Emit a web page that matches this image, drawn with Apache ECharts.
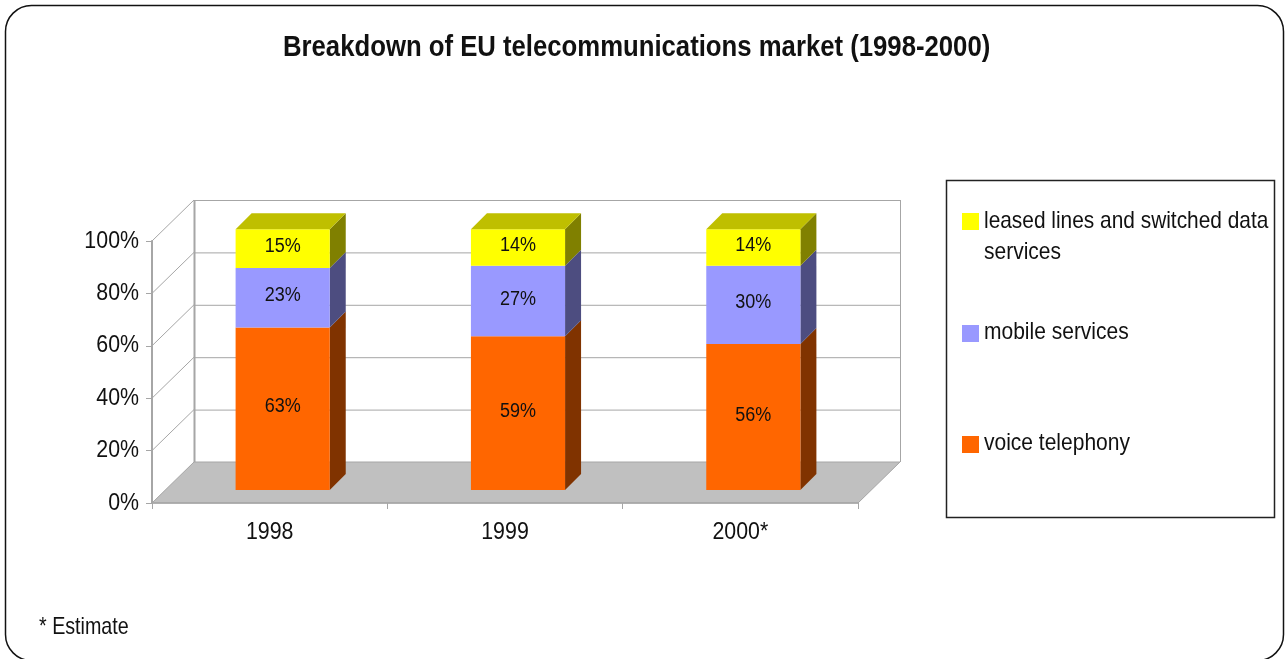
<!DOCTYPE html>
<html>
<head>
<meta charset="utf-8">
<title>Breakdown of EU telecommunications market</title>
<script src="https://cdn.jsdelivr.net/npm/echarts@6/dist/echarts.min.js"></script>
<style>
    html, body { margin: 0; padding: 0; background: #fff; }
    #chart { width: 1286px; height: 659px; }
</style>
</head>
<body>
<div id="chart"></div>
<script>
    var years = ['1998', '1999', '2000*'];
    var voice = [63, 59, 56];
    var mobile = [23, 27, 30];
    var leased = [15, 14, 14];
    var yTicks = [0, 20, 40, 60, 80, 100];

    var FONT = '"Liberation Sans", sans-serif';
    var DEPTH_X = 42, DEPTH_Y = 41;     // floor depth of the fake 3d box
    var BAR_X = 13, BAR_Y = 13;         // front of the bars, from the axis plane
    var BAR_D = 16;                     // depth of a bar
    var BAR_SCALE = 0.995;

    var chart = echarts.init(document.getElementById('chart'));

    // the original font is a narrow one, none is installed so squeeze the regular one
    function narrowText(text, x, y, size, squeeze, align, extra) {
        return {
            type: 'text',
            x: x,
            y: y,
            scaleX: squeeze,
            style: {
                text: text,
                align: align || 'left',
                verticalAlign: 'middle',
                font: (extra || '') + size + 'px ' + FONT,
                fill: '#111'
            }
        };
    }

    function renderWalls(params, api) {
        var o = api.coord([0, 0]);
        var size = api.size([1, 0]);
        var x0 = o[0] - size[0] / 2;
        var x1 = x0 + size[0] * years.length;
        var top = api.coord([0, 100])[1];
        var line = { stroke: '#a6a6a6', lineWidth: 1, fill: null };
        var children = [
            { type: 'polygon', shape: { points: [[x0, o[1]], [x1, o[1]], [x1 + DEPTH_X, o[1] - DEPTH_Y], [x0 + DEPTH_X, o[1] - DEPTH_Y]] },
              style: { fill: '#c0c0c0', stroke: '#a6a6a6', lineWidth: 1 } },
            { type: 'line', shape: { x1: x0 + DEPTH_X + 0.5, y1: o[1] - DEPTH_Y, x2: x0 + DEPTH_X + 0.5, y2: top - DEPTH_Y }, style: { stroke: '#a6a6a6', lineWidth: 2 } },
            { type: 'line', shape: { x1: x1 + DEPTH_X + 0.5, y1: o[1] - DEPTH_Y, x2: x1 + DEPTH_X + 0.5, y2: top - DEPTH_Y }, style: line }
        ];
        yTicks.forEach(function (t) {
            var y = api.coord([0, t])[1];
            if (t > 0) {
                children.push({ type: 'line', shape: { x1: x0, y1: y, x2: x0 + DEPTH_X, y2: y - DEPTH_Y }, style: line });
                children.push({ type: 'line', shape: { x1: x0 + DEPTH_X, y1: y - DEPTH_Y + 0.5, x2: x1 + DEPTH_X, y2: y - DEPTH_Y + 0.5 }, style: line });
            }
            children.push(narrowText(t + '%', x0 - 13, y, 24, 0.89, 'right'));
        });
        years.forEach(function (year, i) {
            children.push(narrowText(year, api.coord([i, 0])[0], o[1] + 29, 24, 0.89, 'center'));
        });
        return { type: 'group', children: children };
    }

    // one stack piece: front face, side face, top face if it is the last one
    function pieceRenderer(values, below, colors, isTop) {
        return function (params, api) {
            var i = params.dataIndex;
            var total = voice[i] + mobile[i] + leased[i];
            var from = below[i] / total * 100 * BAR_SCALE;
            var to = (below[i] + values[i]) / total * 100 * BAR_SCALE;
            var a = api.coord([i, from]);
            var b = api.coord([i, to]);
            var w = api.size([1, 0])[0] * 0.4;
            var l = a[0] + BAR_X - w / 2, r = l + w;
            var y0 = a[1] - BAR_Y, y1 = b[1] - BAR_Y;
            var children = [
                { type: 'polygon', shape: { points: [[r, y0], [r + BAR_D, y0 - BAR_D], [r + BAR_D, y1 - BAR_D], [r, y1]] }, style: { fill: colors.side } },
                { type: 'rect', shape: { x: l, y: y1, width: w, height: y0 - y1 }, style: { fill: colors.front } },
                narrowText(values[i] + '%', l + w / 2, (y0 + y1) / 2 - 2, 20, 0.9, 'center')
            ];
            if (isTop) {
                children.push({ type: 'polygon', shape: { points: [[l, y1], [r, y1], [r + BAR_D, y1 - BAR_D], [l + BAR_D, y1 - BAR_D]] }, style: { fill: colors.top } });
            }
            return { type: 'group', children: children };
        };
    }

    var voiceBelow = [0, 0, 0];
    var mobileBelow = voice;
    var leasedBelow = voice.map(function (v, i) { return v + mobile[i]; });

    function pieceSeries(name, values, below, colors, isTop) {
        return {
            name: name,
            type: 'custom',
            coordinateSystem: 'cartesian2d',
            clip: false,
            z: 3,
            itemStyle: { color: colors.front },
            data: values.map(function (v, i) { return [i, v]; }),
            renderItem: pieceRenderer(values, below, colors, isTop)
        };
    }

    function legendMark(y, color) {
        return { type: 'rect', shape: { x: 962, y: y, width: 17, height: 17 }, style: { fill: color } };
    }

    chart.setOption({
        animation: false,
        grid: { left: 152, right: 428, top: 241, bottom: 156 },
        xAxis: {
            type: 'category',
            data: years,
            z: 5,
            axisLine: { lineStyle: { color: '#a6a6a6', width: 1.5 } },
            axisTick: { show: true, alignWithLabel: false, length: 6, lineStyle: { color: '#a6a6a6' } },
            axisLabel: { show: false },
            splitLine: { show: false }
        },
        yAxis: {
            type: 'value',
            min: 0,
            max: 100,
            interval: 20,
            z: 5,
            axisLine: { show: true, lineStyle: { color: '#a6a6a6', width: 2 } },
            axisTick: { show: true, length: 6, lineStyle: { color: '#a6a6a6' } },
            axisLabel: { show: false },
            splitLine: { show: false }
        },
        series: [
            { type: 'custom', name: 'walls', silent: true, clip: false, z: 1, data: [[0, 0]], renderItem: renderWalls },
            pieceSeries('voice telephony', voice, voiceBelow, { front: '#ff6600', side: '#803300' }, false),
            pieceSeries('mobile services', mobile, mobileBelow, { front: '#9999ff', side: '#4d4d80' }, false),
            pieceSeries('leased lines and switched data services', leased, leasedBelow, { front: '#ffff00', side: '#808000', top: '#bfbf00' }, true)
        ],
        graphic: [
            { type: 'rect', z: -1, shape: { x: 5.5, y: 5.5, width: 1278, height: 655, r: 26 }, style: { fill: '#fff', stroke: '#111', lineWidth: 1.5 } },
            { type: 'rect', z: -1, shape: { x: 946.5, y: 180.5, width: 328, height: 337 }, style: { fill: '#fff', stroke: '#222', lineWidth: 1.5 } },
            narrowText('Breakdown of EU telecommunications market (1998-2000)', 283, 48, 30, 0.857, 'left', 'bold '),
            legendMark(213, '#ffff00'),
            legendMark(325, '#9999ff'),
            legendMark(436, '#ff6600'),
            narrowText('leased lines and switched data', 984, 221, 24, 0.87),
            narrowText('services', 984, 252, 24, 0.875),
            narrowText('mobile services', 984, 332, 24, 0.875),
            narrowText('voice telephony', 984, 443, 24, 0.875),
            narrowText('* Estimate', 39, 627, 24, 0.82)
        ]
    });
</script>
</body>
</html>
